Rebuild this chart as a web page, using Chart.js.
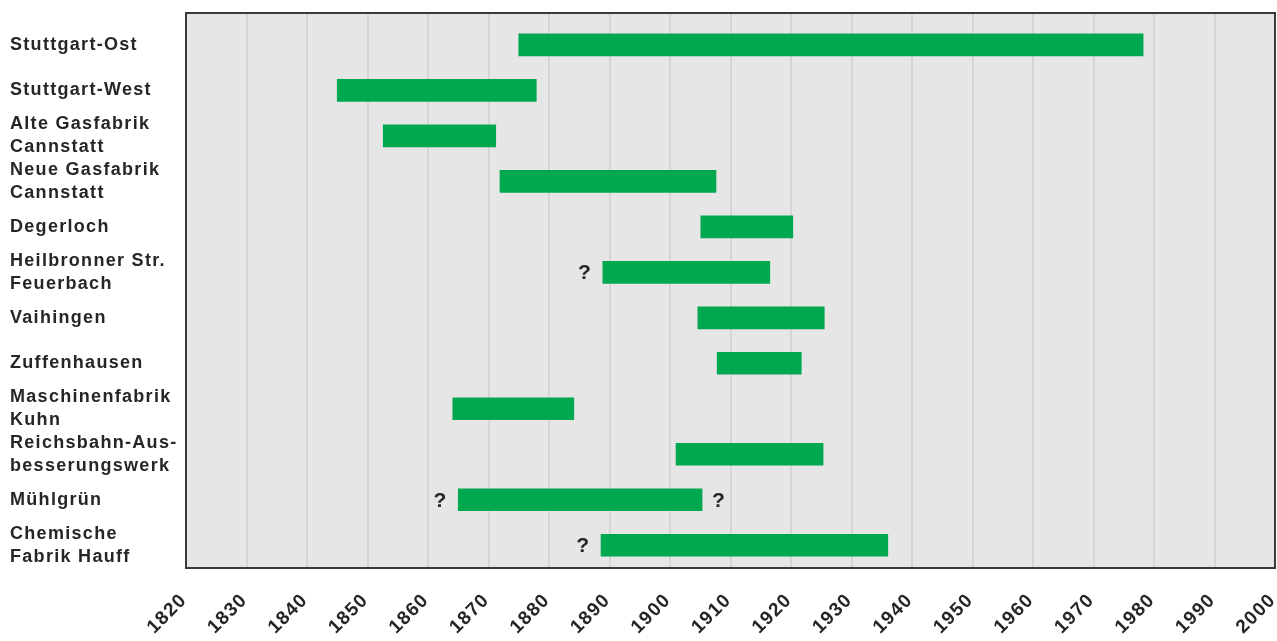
<!DOCTYPE html>
<html>
<head>
<meta charset="utf-8">
<script src="https://cdn.jsdelivr.net/npm/chart.js@4"></script>
<style>
html,body{margin:0;padding:0;background:#fff;}
#wrap{width:1277px;height:641px;position:relative;}
</style>
</head>
<body>
<div id="wrap"><canvas id="c" width="1277" height="641"></canvas></div>
<script>
const categories = [
  ["Stuttgart-Ost"],
  ["Stuttgart-West"],
  ["Alte Gasfabrik", "Cannstatt"],
  ["Neue Gasfabrik", "Cannstatt"],
  ["Degerloch"],
  ["Heilbronner Str.", "Feuerbach"],
  ["Vaihingen"],
  ["Zuffenhausen"],
  ["Maschinenfabrik", "Kuhn"],
  ["Reichsbahn-Aus-", "besserungswerk"],
  ["Mühlgrün"],
  ["Chemische", "Fabrik Hauff"]
];
const startYears = [1875, 1845, 1852.6, 1871.9, 1905.1, 1888.9, 1904.6, 1907.8, 1864.1, 1901, 1865, 1888.6];
const endYears   = [1978.2, 1877.9, 1871.2, 1907.6, 1920.3, 1916.5, 1925.5, 1921.7, 1884.1, 1925.3, 1905.3, 1936];
const uncertainStart = [false, false, false, false, false, true, false, false, false, false, true, true];
const uncertainEnd   = [false, false, false, false, false, false, false, false, false, false, true, false];
const yearTicks = [1820,1830,1840,1850,1860,1870,1880,1890,1900,1910,1920,1930,1940,1950,1960,1970,1980,1990,2000];

const data = categories.map((c, i) => ({ x: [startYears[i], endYears[i]], y: i }));

const FONT = 'Liberation Sans, Arial, sans-serif';

const plotBg = {
  id: 'plotBg',
  beforeDraw(chart) {
    const { ctx, chartArea: a } = chart;
    ctx.save();
    ctx.fillStyle = '#e6e6e6';
    ctx.fillRect(a.left, a.top, a.right - a.left, a.bottom - a.top);
    ctx.restore();
    ctx.letterSpacing = '1.3px';
  },
  afterDraw(chart) {
    const { ctx, chartArea: a } = chart;
    ctx.save();
    ctx.strokeStyle = '#3a3a3a';
    ctx.lineWidth = 2;
    ctx.strokeRect(a.left, a.top, a.right - a.left, a.bottom - a.top);
    ctx.restore();
  }
};

const qMarks = {
  id: 'qMarks',
  afterDatasetsDraw(chart) {
    const { ctx, scales: { x, y } } = chart;
    ctx.save();
    ctx.letterSpacing = '0px';
    ctx.fillStyle = '#262626';
    ctx.font = 'bold 21px ' + FONT;
    ctx.textBaseline = 'middle';
    for (let i = 0; i < categories.length; i++) {
      const py = y.getPixelForValue(i) + 1;
      if (uncertainStart[i]) {
        ctx.textAlign = 'right';
        ctx.fillText('?', x.getPixelForValue(startYears[i]) - 12, py);
      }
      if (uncertainEnd[i]) {
        ctx.textAlign = 'left';
        ctx.fillText('?', x.getPixelForValue(endYears[i]) + 10, py);
      }
    }
    ctx.restore();
  }
};

new Chart(document.getElementById('c'), {
  type: 'bar',
  data: {
    datasets: [{
      data: data,
      backgroundColor: '#00a84f',
      borderWidth: 0,
      barThickness: 22
    }]
  },
  options: {
    indexAxis: 'y',
    responsive: false,
    animation: false,
    devicePixelRatio: 1,
    layout: { padding: { left: 10, right: 2, top: 13, bottom: 0 } },
    plugins: { legend: { display: false }, tooltip: { enabled: false } },
    scales: {
      x: {
        type: 'linear',
        min: 1820,
        max: 2000,
        afterBuildTicks(scale) { scale.ticks = yearTicks.map(v => ({ value: v })); },
        afterFit(scale) { scale.height = 73; scale.paddingLeft = 0; scale.paddingRight = 0; },
        grid: { color: '#d5d5d5', lineWidth: 2, drawTicks: false },
        border: { display: false },
        ticks: {
          autoSkip: false,
          maxRotation: 45,
          minRotation: 45,
          padding: 21,
          labelOffset: -2,
          color: '#262626',
          font: { family: FONT, size: 19, weight: 'bold' },
          callback: v => String(v)
        }
      },
      y: {
        type: 'linear',
        reverse: true,
        offset: false,
        min: -0.7,
        max: 11.5,
        afterBuildTicks(scale) { scale.ticks = categories.map((c, i) => ({ value: i })); },
        afterFit(scale) { scale.width = 176; scale.paddingTop = 0; scale.paddingBottom = 0; },
        grid: { display: false },
        border: { display: false },
        ticks: {
          autoSkip: false,
          crossAlign: 'far',
          color: '#262626',
          font: { family: FONT, size: 18, weight: 'bold', lineHeight: 1.27 },
          callback: (v) => categories[v] || ''
        }
      }
    }
  },
  plugins: [plotBg, qMarks]
});
</script>
</body>
</html>
